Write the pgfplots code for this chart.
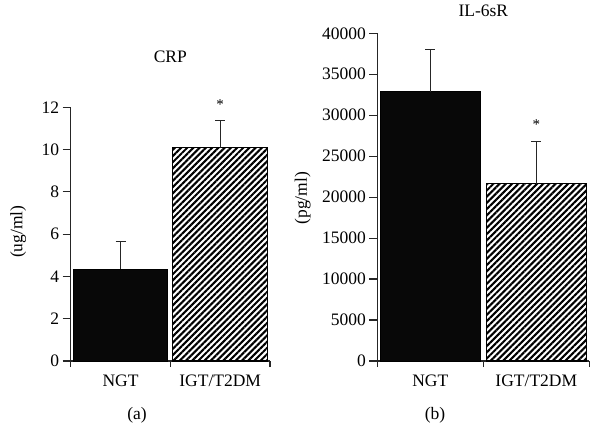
\documentclass[border=0pt]{standalone}
\usepackage{fontspec}
\setmainfont{Liberation Serif}
\usepackage{pgfplots}
\pgfplotsset{compat=1.18}
\usetikzlibrary{patterns.meta}

\pgfplotsset{
  panel/.style={
    scale only axis,
    clip=false,
    axis x line*=bottom,
    axis y line*=left,
    axis line style={-, line width=1.2pt, black!85},
    xmin=-0.5, xmax=1.5, ymin=0,
    xtick={0,1},
    xticklabels={NGT, IGT/T2DM},
    minor xtick={-0.5,0.5,1.5},
    major x tick style={draw=none},
    minor x tick style={line width=1.2pt, black!85},
    y tick style={line width=1.2pt, black!85},
    tick align=outside,
    major tick length=8pt,
    minor tick length=6pt,
    /pgf/number format/assume math mode=true,
    /pgf/number format/1000 sep={},
    tick label style={font=\fontsize{17.5}{20}\selectfont},
    xticklabel style={yshift=-2pt},
    label style={font=\fontsize{17.5}{20}\selectfont},
    title style={font=\fontsize{17.5}{20}\selectfont, anchor=center},
    xlabel style={anchor=center},
    ylabel style={anchor=center, rotate=0},
    error bars/y dir=plus,
    error bars/y explicit,
    error bars/error bar style={line width=1pt, black!85},
    error bars/error mark options={line width=1pt, black!85, mark size=5pt, rotate=90},
  },
  blackbar/.style={ybar, fill=black!97, draw=black, line width=1pt},
  hatchbar/.style={ybar, draw=black, line width=1.2pt,
    pattern={Lines[angle=45, distance=4.4pt, line width=2.1pt]}, pattern color=black},
  star/.style={draw=none, mark=none, nodes near coords={*},
    nodes near coords style={anchor=center, yshift=16.5pt, font=\fontsize{15}{17}\selectfont}},
}

\begin{document}
\begin{tikzpicture}
\useasboundingbox (0,0) rectangle (601pt,447pt);

% Panel (a): CRP
\begin{axis}[panel,
  at={(70.7pt,86pt)}, anchor=south west,
  width=199.3pt, height=253.7pt,
  ymax=12, ytick={0,2,4,6,8,10,12},
  title={CRP}, title style={at={(0.5,1.1758)}},
  xlabel={(a)}, xlabel style={at={(0.333,-0.2128)}},
  ylabel={(ug/ml)}, ylabel style={at={(-0.263,0.51)}},
]
\addplot[blackbar, bar width=0.95] coordinates {(0,4.34) +- (0,1.29)};
\addplot[hatchbar, bar width=0.95] coordinates {(1,10.09) +- (0,1.28)};
\addplot[star] coordinates {(1,11.37)};
\end{axis}

% Panel (b): IL-6sR
\begin{axis}[panel,
  at={(377.3pt,86pt)}, anchor=south west,
  width=212pt, height=327.7pt,
  ymax=40000, ytick={0,5000,10000,15000,20000,25000,30000,35000,40000},
  scaled y ticks=false,
  title={IL-6sR}, title style={at={(0.5,1.0507)}},
  xlabel={(b)}, xlabel style={at={(0.272,-0.1648)}},
  ylabel={(pg/ml)}, ylabel style={at={(-0.352,0.497)}},
]
\addplot[blackbar, bar width=0.943] coordinates {(0,32880) +- (0,5090)};
\addplot[hatchbar, bar width=0.943] coordinates {(1,21650) +- (0,5180)};
\addplot[star] coordinates {(1,26830)};
\end{axis}
\end{tikzpicture}
\end{document}
